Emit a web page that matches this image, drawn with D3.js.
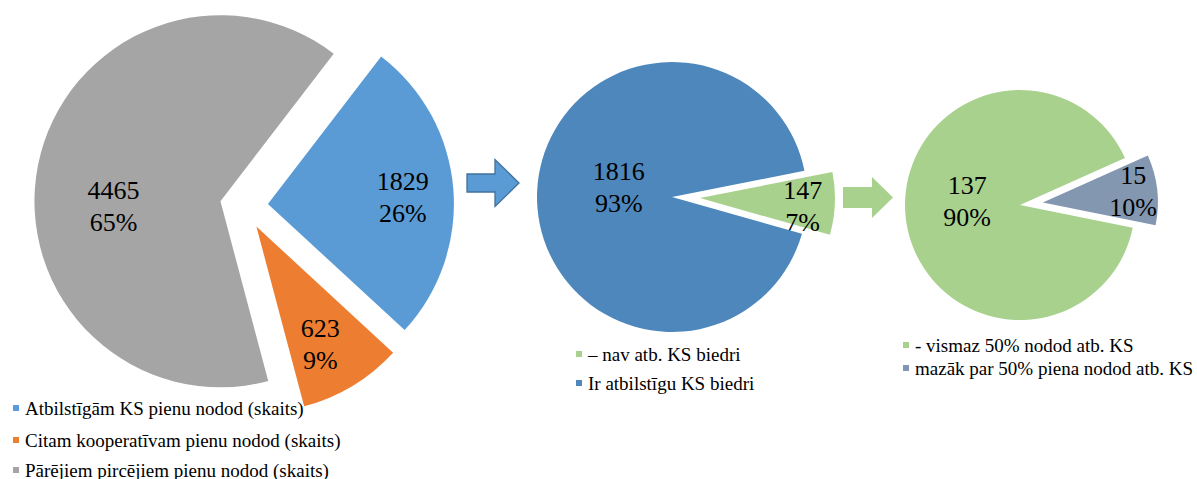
<!DOCTYPE html>
<html>
<head>
<meta charset="utf-8">
<script src="https://cdn.jsdelivr.net/npm/d3@7"></script>
<style>
  body { margin: 0; background: #fff; }
  text { font-family: 'Liberation Serif', 'Times New Roman', Times, 'DejaVu Serif', serif; }
</style>
</head>
<body>
<svg id="chart"></svg>
<script>
// --- data ---
const pie1Names = ['Atbilstīgām KS pienu nodod (skaits)', 'Citam kooperatīvam pienu nodod (skaits)', 'Pārējiem pircējiem pienu nodod (skaits)'];
const pie1Values = [1829, 623, 4465];

const pie2Names = ['– nav atb. KS biedri', 'Ir atbilstīgu KS biedri'];
const pie2Values = [147, 1816];

const pie3Names = ['- vismaz 50% nodod atb. KS', 'mazāk par 50% piena nodod atb. KS'];
const pie3Values = [137, 15];

// --- layout ---
const width = 1197;
const height = 479;
const fontFamily = "'Liberation Serif', 'Times New Roman', Times, serif";
const rad = deg => deg * Math.PI / 180;

let svg = d3.select('#chart').attr('width', width).attr('height', height);

let pies = [
  {
    names: pie1Names, values: pie1Values,
    colors: ['#5B9BD5', '#ED7D31', '#A5A5A5'],
    cx: 244, cy: 206, r: 186, start: 37.5,
    explode: [24, 24, 24],
    // label placement relative to slice tip: [distance, angle shift from mid-angle]
    labelPos: [[135, 2], [134, 2.6], [107, -14]],
    legend: { x: 13, y: [408, 440, 470] }
  },
  {
    names: pie2Names, values: pie2Values,
    colors: ['#A9D18E', '#4E87BC'],
    cx: 672, cy: 197, r: 135, start: 78.8,
    explode: [28, 0],
    labelPos: [[103, 2.3], [54, 8]],
    legend: { x: 576, y: [354, 383] }
  },
  {
    names: pie3Names, values: pie3Values,
    colors: ['#A9D18E', '#8497B0'],
    cx: 1020, cy: 205, r: 115, start: 101.4,
    explode: [0, 23],
    labelPos: [[53, 10.6], [91, -0.8]],
    legend: { x: 903, y: [345, 368] }
  }
];

function drawPie(p) {
  let total = d3.sum(p.values);
  let pie = d3.pie().sort(null)
    .startAngle(rad(p.start))
    .endAngle(rad(p.start) + 2 * Math.PI);
  let arcs = pie(p.values);
  let arc = d3.arc().innerRadius(0).outerRadius(p.r);

  let g = svg.append('g').attr('transform', `translate(${p.cx},${p.cy})`);

  let slices = g.selectAll('.slice').data(arcs).enter()
    .append('g')
    .attr('class', 'slice')
    .attr('transform', (d, i) => {
      let mid = (d.startAngle + d.endAngle) / 2;
      let e = p.explode[i];
      return `translate(${e * Math.sin(mid)},${-e * Math.cos(mid)})`;
    });

  slices.append('path')
    .attr('d', arc)
    .attr('fill', (d, i) => p.colors[i]);

  let label = slices.append('text')
    .attr('font-family', fontFamily)
    .attr('font-size', 26)
    .attr('fill', '#000')
    .attr('text-anchor', 'middle')
    .attr('transform', (d, i) => {
      let mid = (d.startAngle + d.endAngle) / 2 + rad(p.labelPos[i][1]);
      let dist = p.labelPos[i][0];
      return `translate(${dist * Math.sin(mid)},${-dist * Math.cos(mid)})`;
    });
  label.append('tspan').attr('x', 0).attr('y', -16).attr('dominant-baseline', 'central')
    .text(d => d.value);
  label.append('tspan').attr('x', 0).attr('y', 16).attr('dominant-baseline', 'central')
    .text(d => Math.round(d.value / total * 100) + '%');

  // legend
  let leg = svg.append('g').selectAll('g').data(p.names).enter()
    .append('g')
    .attr('transform', (d, i) => `translate(${p.legend.x},${p.legend.y[i]})`);
  leg.append('rect')
    .attr('x', 0).attr('y', -3).attr('width', 6).attr('height', 6)
    .attr('fill', (d, i) => p.colors[i]);
  leg.append('text')
    .attr('x', 12).attr('y', 0)
    .attr('dominant-baseline', 'central')
    .attr('font-family', fontFamily)
    .attr('font-size', 19)
    .attr('fill', '#000')
    .text(d => d);
}

pies.forEach(drawPie);

// connecting arrows
function arrowPoints(x0, x1, x2, yc, bodyH, headH) {
  return [
    [x0, yc - bodyH / 2], [x1, yc - bodyH / 2], [x1, yc - headH / 2],
    [x2, yc], [x1, yc + headH / 2], [x1, yc + bodyH / 2], [x0, yc + bodyH / 2]
  ];
}
svg.append('polygon')
  .attr('points', arrowPoints(467, 495, 519, 183, 18, 47).join(' '))
  .attr('fill', '#5B9BD5')
  .attr('stroke', '#41719C')
  .attr('stroke-width', 1.3);
svg.append('polygon')
  .attr('points', arrowPoints(843, 872, 893, 197.5, 21, 41).join(' '))
  .attr('fill', '#A9D18E');
</script>
</body>
</html>
